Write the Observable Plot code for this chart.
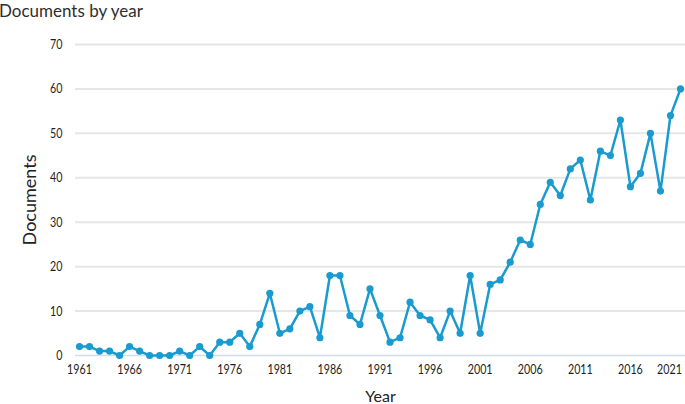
<!DOCTYPE html>
<html>
<head>
<meta charset="utf-8">
<script src="https://cdn.jsdelivr.net/npm/d3@7"></script>
<script src="https://cdn.jsdelivr.net/npm/@observablehq/plot@0.6"></script>
<style>
  html, body { margin: 0; padding: 0; background: #fff; }
  body { width: 685px; height: 404px; overflow: hidden; font-family: Lato, "Open Sans", sans-serif; }
  #title { height: 22px; font-size: 17px; line-height: 17px; color: #2e2e2e; padding-top: 2px; box-sizing: border-box; margin-left: -1px; }
</style>
</head>
<body>
<div id="title">Documents by year</div>
<div id="chart"></div>
<script>
const years = d3.range(1961, 2022);
const documents = [
  2, 2, 1, 1, 0, 2, 1, 0, 0, 0,
  1, 0, 2, 0, 3, 3, 5, 2, 7, 14,
  5, 6, 10, 11, 4, 18, 18, 9, 7, 15,
  9, 3, 4, 12, 9, 8, 4, 10, 5, 18,
  5, 16, 17, 21, 26, 25, 34, 39, 36, 42,
  44, 35, 46, 45, 53, 38, 41, 50, 37, 54,
  60
];
const xTicks = [1961, 1966, 1971, 1976, 1981, 1986, 1991, 1996, 2001, 2006, 2011, 2016, 2021];
const yTicks = [0, 10, 20, 30, 40, 50, 60, 70];

const data = years.map((y, i) => ({year: y, docs: documents[i]}));
const color = "#1a9bd0";

const chart = Plot.plot({
  width: 685,
  height: 382,
  marginTop: 22,
  marginBottom: 49,
  marginLeft: 75,
  marginRight: 0,
  style: {fontFamily: "Lato, 'Open Sans', sans-serif", fontSize: "13px", color: "#1e1e1e", background: "#fff", overflow: "visible"},
  x: {
    domain: [1961, 2021],
    insetLeft: 4,
    insetRight: 5,
    label: null
  },
  y: {
    domain: [0, 70],
    label: null
  },
  marks: [
    Plot.gridY(yTicks.filter(d => d > 0), {stroke: "#e6e6e6", strokeOpacity: 1, strokeWidth: 2}),
    Plot.ruleY([0], {stroke: "#cfdcf0", strokeWidth: 1.5}),
    Plot.axisX({ticks: xTicks, tickFormat: d => String(d), tickSize: 0, tickPadding: 9, fontSize: 14, label: null}),
    Plot.axisY({ticks: yTicks, tickSize: 0, tickPadding: 13, fontSize: 14, label: null}),
    Plot.text(["Year"], {frameAnchor: "bottom", dy: 46, fontSize: 16, fill: "#222"}),
    Plot.text(["Documents"], {frameAnchor: "left", textAnchor: "middle", dx: -45, rotate: -90, fontSize: 18, fill: "#222"}),
    Plot.line(data, {x: "year", y: "docs", stroke: color, strokeWidth: 2.5}),
    Plot.dot(data, {x: "year", y: "docs", fill: color, r: 3.6})
  ]
});
// condense tick label glyphs to match the narrow reference typeface
d3.select(chart).selectAll("[aria-label='x-axis tick label'] text, [aria-label='y-axis tick label'] text")
  .each(function() {
    const t = d3.select(this);
    const len = t.text().length;
    t.attr("textLength", 6.2 * len).attr("lengthAdjust", "spacingAndGlyphs");
  });
const xl = d3.select(chart).selectAll("[aria-label='x-axis tick label'] text").nodes();
if (xl.length) d3.select(xl[xl.length - 1]).attr("dx", -11);
document.getElementById("chart").append(chart);
</script>
</body>
</html>
